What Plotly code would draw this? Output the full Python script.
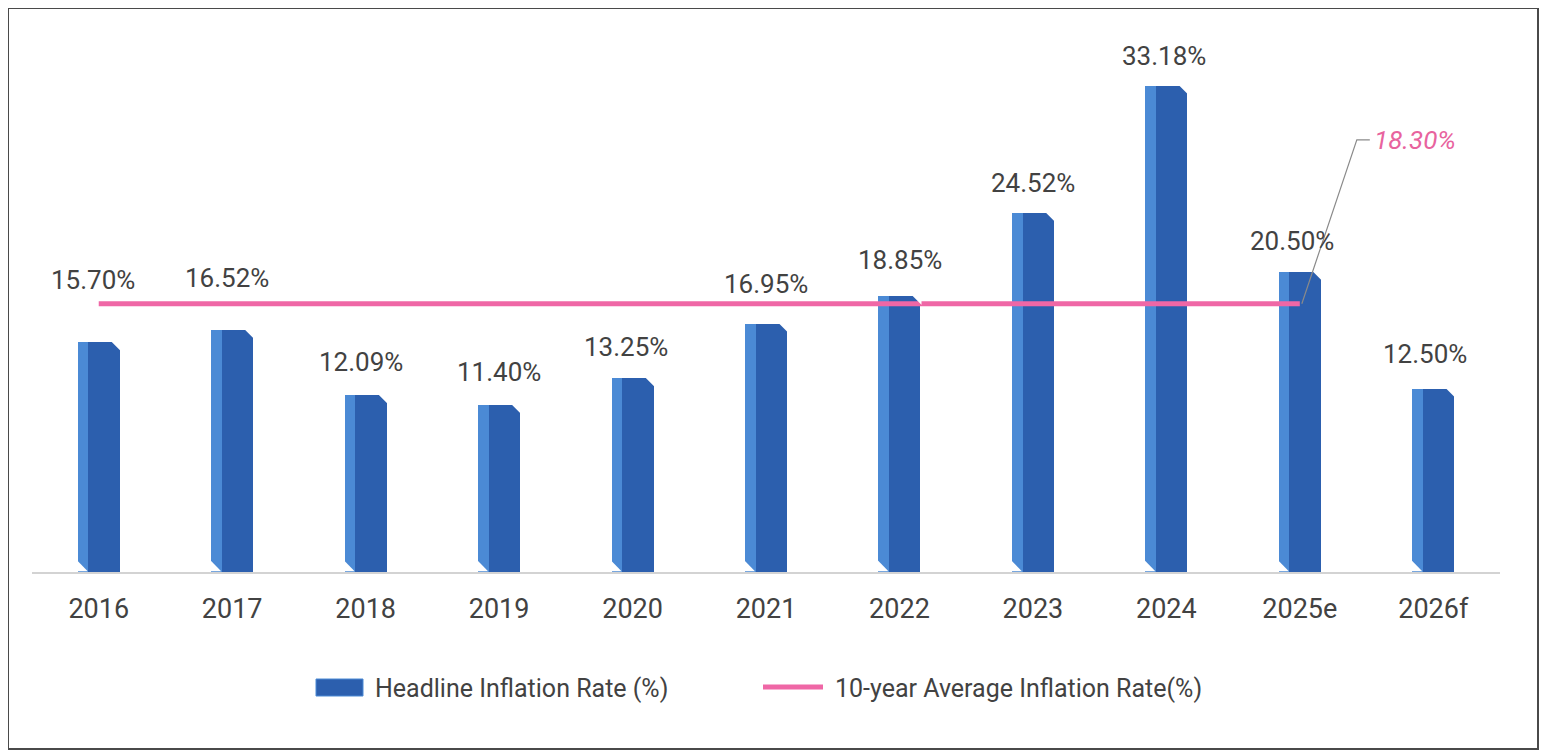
import plotly.graph_objects as go

# ---- data ----
years = ["2016", "2017", "2018", "2019", "2020", "2021", "2022", "2023", "2024", "2025e", "2026f"]
headline = [15.70, 16.52, 12.09, 11.40, 13.25, 16.95, 18.85, 24.52, 33.18, 20.50, 12.50]
avg_years = ["2016", "2017", "2018", "2019", "2020", "2021", "2022", "2023", "2024", "2025e"]
avg_rate = [18.30, 18.30, 18.30, 18.30, 18.30, 18.30, 18.30, 18.30, 18.30, 18.30]
avg_label = "18.30%"

# ---- layout helpers (pixels; page body has an 8px margin) ----
OFF = 8
W, H = 1548, 744
ML, MR, MT, MB = 24, 56, 32, 180   # plot area: x 32..1500, y 40..572 on the page
PW, PH = W - ML - MR, H - MT - MB
label_yshift = [62, 52, 33, 33, 31, 40, 36, 30, 30, 31, 35]
label_xshift = [-6, -5, -5, 0, -7, 0, 1, 0, -2, -8, -8]
BAR_W = 0.315
FACE_W = 0.235

FONT = "Roboto"
TXT = "#424242"
DARK = "#2C5FAE"
LIGHT = "#4B8AD5"
PINK = "#EF67A6"


def px(x):
    # page pixel -> paper fraction
    return (x - OFF - ML) / PW


def py(y):
    return (H - MB - (y - OFF)) / PH


fig = go.Figure()
# light left side of the columns
fig.add_trace(go.Bar(x=years, y=headline, width=BAR_W, offset=-BAR_W / 2,
                     marker=dict(color=LIGHT, line=dict(width=0)),
                     name="Headline Inflation Rate (%)", showlegend=False,
                     hoverinfo="x+y"))
# dark front face
fig.add_trace(go.Bar(x=years, y=headline, width=FACE_W, offset=BAR_W / 2 - FACE_W,
                     marker=dict(color=DARK, line=dict(width=0)),
                     showlegend=False, hoverinfo="skip"))
# average line
fig.add_trace(go.Scatter(x=avg_years, y=avg_rate, mode="lines",
                         line=dict(color=PINK, width=5),
                         name="10-year Average Inflation Rate(%)", showlegend=False))

annotations = []
for i, v in enumerate(headline):
    annotations.append(dict(x=i, y=v, xref="x", yref="y", text=f"{v:.2f}%", showarrow=False,
                            xanchor="center", yanchor="middle",
                            yshift=label_yshift[i], xshift=label_xshift[i],
                            font=dict(family=FONT, size=26, color=TXT)))

# average callout
annotations.append(dict(x=len(avg_years) - 1, y=avg_rate[-1], xref="x", yref="y",
                        text=f"<i>{avg_label}</i>", showarrow=False,
                        xanchor="left", yanchor="middle", xshift=72, yshift=164,
                        font=dict(family=FONT, size=26, color="#E8639E")))

# manual legend
annotations.append(dict(x=px(373), y=py(688), xref="paper", yref="paper",
                        text="Headline Inflation Rate (%)", showarrow=False,
                        xanchor="left", yanchor="middle",
                        font=dict(family=FONT, size=25, color=TXT)))
annotations.append(dict(x=px(833), y=py(688), xref="paper", yref="paper",
                        text="10-year Average Inflation Rate(%)", showarrow=False,
                        xanchor="left", yanchor="middle",
                        font=dict(family=FONT, size=25, color=TXT)))

shapes = [
    # outer border
    dict(type="rect", xref="paper", yref="paper",
         x0=px(8), x1=px(1538), y0=py(749), y1=py(8),
         line=dict(color="#4a4a4a", width=2), fillcolor="rgba(0,0,0,0)", layer="below"),
]

# bevel cuts on the columns (top-right and bottom-left corners)
for i, v in enumerate(headline):
    shapes.append(dict(type="path", xref="x", yref="y", xsizemode="pixel", ysizemode="pixel",
                       xanchor=i + BAR_W / 2, yanchor=v,
                       path="M -9,1 L 1,1 L 1,-9 Z",
                       fillcolor="white", line=dict(width=0), layer="above"))
    shapes.append(dict(type="path", xref="x", yref="y", xsizemode="pixel", ysizemode="pixel",
                       xanchor=i - BAR_W / 2, yanchor=0,
                       path="M -1,0.7 L -1,12 L 10,0.7 Z",
                       fillcolor="white", line=dict(width=0), layer="above"))

shapes += [
    # callout leader line
    dict(type="path", xref="x", yref="y", xsizemode="pixel", ysizemode="pixel",
         xanchor=len(avg_years) - 1, yanchor=avg_rate[-1],
         path="M 2,0 L 57,164 L 70,164",
         line=dict(color="#8a8a8a", width=1.2)),
    # legend keys
    dict(type="rect", xref="paper", yref="paper",
         x0=px(316), x1=px(363), y0=py(696), y1=py(679),
         fillcolor=DARK, line=dict(color=LIGHT, width=1)),
    dict(type="line", xref="paper", yref="paper",
         x0=px(763), x1=px(823), y0=py(687), y1=py(687),
         line=dict(color=PINK, width=5)),
]

fig.update_layout(
    width=W, height=H,
    margin=dict(l=ML, r=MR, t=MT, b=MB),
    paper_bgcolor="white", plot_bgcolor="white",
    barmode="overlay", bargap=0,
    showlegend=False,
    annotations=annotations, shapes=shapes,
    font=dict(family=FONT, color=TXT),
    xaxis=dict(type="category", categoryorder="array", categoryarray=years,
               showline=True, linecolor="#D3D3D3", linewidth=1.5,
               showgrid=False, ticks="", ticklabelstandoff=12,
               tickfont=dict(family=FONT, size=27, color=TXT),
               range=[-0.5, 10.5], fixedrange=True),
    yaxis=dict(visible=False, range=[0, 36.3], showgrid=False, zeroline=False,
               fixedrange=True),
)

fig.write_html("out.html")
